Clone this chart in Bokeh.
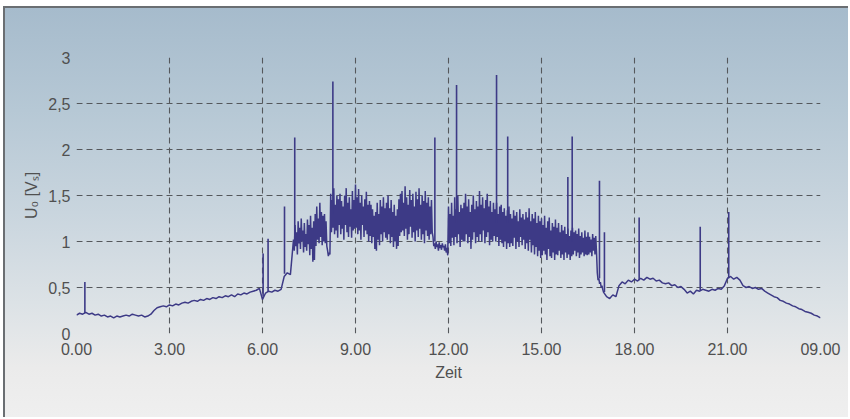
import numpy as np
from bokeh.plotting import figure
from bokeh.models import Range1d, FixedTicker
from bokeh.embed import file_html
from bokeh.resources import INLINE

# ---------------- data ----------------
# quiet night / morning part, one sample every 0.1 h from 0.0 h
seg_a_start, seg_a_step = 0.0, 0.1
seg_a_values = [
    0.20, 0.22, 0.21, 0.23, 0.21, 0.22, 0.20, 0.21, 0.19, 0.20,
    0.18, 0.19, 0.17, 0.19, 0.18, 0.19, 0.20, 0.19, 0.21, 0.20,
    0.19, 0.20, 0.18, 0.19, 0.21, 0.25, 0.28, 0.29, 0.30, 0.29,
    0.31, 0.30, 0.32, 0.31, 0.33, 0.34, 0.33, 0.35, 0.36, 0.35,
    0.37, 0.36, 0.38, 0.37, 0.39, 0.38, 0.40, 0.39, 0.41, 0.40,
    0.42, 0.40, 0.43, 0.42, 0.44, 0.43, 0.45, 0.46, 0.47, 0.49,
    0.37, 0.44, 0.46, 0.45, 0.47, 0.46, 0.48, 0.62, 0.66, 0.64,
]
# noisy day part, one sample every 0.025 h from 7.0 h (one row = 0.5 h)
seg_b_start, seg_b_step = 7.0, 0.025
seg_b_values = [
    1.02, 0.90, 1.18, 0.95, 1.10, 0.86, 1.22, 0.98, 1.15, 0.92, 1.25, 1.00, 1.12, 0.88, 1.20, 0.94, 1.08, 0.90, 1.24, 0.97,
    1.18, 0.85, 1.28, 0.92, 1.15, 0.78, 1.22, 0.80, 1.30, 0.95, 1.38, 1.02, 1.25, 0.98, 1.42, 1.05, 1.32, 0.96, 1.28, 1.00,
    1.30, 0.98, 1.22, 0.95, 0.90, 0.84, 0.88, 0.86, 1.52, 1.10, 1.45, 1.15, 1.58, 1.08, 1.40, 1.12, 1.50, 1.04, 1.46, 1.18,
    1.52, 1.08, 1.44, 1.14, 1.38, 1.02, 1.50, 1.18, 1.58, 1.10, 1.42, 1.05, 1.48, 1.16, 1.35, 1.04, 1.55, 1.12, 1.45, 1.14,
    1.62, 1.15, 1.48, 1.08, 1.57, 1.12, 1.42, 1.02, 1.50, 1.18, 1.38, 1.05, 1.46, 1.12, 1.54, 1.08, 1.40, 1.00, 1.44, 1.06,
    1.40, 0.98, 1.35, 1.05, 1.28, 0.92, 1.32, 0.90, 1.42, 1.02, 1.30, 0.96, 1.45, 1.08, 1.38, 1.00, 1.48, 1.10, 1.36, 1.04,
    1.42, 1.02, 1.50, 1.08, 1.36, 0.98, 1.45, 1.05, 1.32, 0.94, 1.40, 1.00, 1.28, 0.92, 1.35, 0.95, 1.46, 1.06, 1.52, 1.10,
    1.55, 1.12, 1.42, 1.06, 1.60, 1.14, 1.48, 1.02, 1.40, 1.08, 1.56, 1.16, 1.45, 1.04, 1.52, 1.10, 1.38, 1.00, 1.54, 1.12,
    1.46, 1.05, 1.58, 1.14, 1.40, 1.02, 1.50, 1.08, 1.44, 0.98, 1.55, 1.12, 1.42, 1.06, 1.48, 1.02, 1.38, 1.08, 1.45, 1.10,
    1.05, 0.95, 0.98, 0.92, 1.00, 0.94, 0.97, 0.90, 0.99, 0.93, 0.96, 0.91, 0.98, 0.94, 0.95, 0.90, 0.97, 0.88, 0.93, 0.85,
    1.38, 0.98, 1.30, 0.95, 1.42, 1.04, 1.28, 0.96, 1.48, 1.05, 1.35, 0.98, 1.50, 1.08, 1.32, 0.94, 1.40, 1.02, 1.36, 1.00,
    1.42, 1.00, 1.52, 1.08, 1.38, 0.98, 1.46, 1.05, 1.32, 0.92, 1.40, 1.02, 1.50, 1.10, 1.35, 0.98, 1.44, 1.05, 1.38, 1.00,
    1.55, 1.08, 1.40, 1.00, 1.48, 1.12, 1.36, 0.98, 1.45, 1.05, 1.52, 1.10, 1.38, 0.96, 1.44, 1.02, 1.32, 1.00, 1.42, 1.06,
    1.35, 1.00, 1.42, 1.05, 1.30, 0.95, 1.38, 1.02, 1.40, 0.98, 1.32, 0.94, 1.36, 1.00, 1.28, 0.92, 1.34, 0.98, 1.38, 0.94,
    1.30, 0.98, 1.25, 0.95, 1.34, 1.04, 1.28, 0.92, 1.32, 1.00, 1.22, 0.94, 1.35, 1.05, 1.26, 0.96, 1.30, 1.02, 1.24, 0.92,
    1.32, 0.98, 1.26, 0.90, 1.36, 1.02, 1.22, 0.88, 1.30, 0.96, 1.25, 0.86, 1.32, 0.94, 1.20, 0.84, 1.28, 0.90, 1.22, 0.82,
    1.25, 0.85, 1.18, 0.90, 1.28, 0.86, 1.15, 0.80, 1.22, 0.92, 1.26, 0.84, 1.12, 0.82, 1.20, 0.88, 1.16, 0.80, 1.24, 0.86,
    1.15, 0.85, 1.20, 0.90, 1.10, 0.82, 1.18, 0.86, 1.12, 0.80, 1.16, 0.88, 1.08, 0.82, 1.14, 0.86, 1.06, 0.80, 1.12, 0.84,
    1.15, 0.86, 1.10, 0.90, 1.12, 0.84, 1.08, 0.88, 1.14, 0.82, 1.06, 0.86, 1.10, 0.88, 1.04, 0.84, 1.12, 0.86, 1.05, 0.85,
    1.10, 0.86, 1.05, 0.88, 1.02, 0.84, 1.08, 0.90, 1.04, 0.86, 1.06, 0.88, 0.66, 0.58, 0.60, 0.54, 0.56, 0.50, 0.52, 0.48,
]
# quiet evening / night part, one sample every 0.1 h from 17.0 h
seg_c_start, seg_c_step = 17.0, 0.1
seg_c_values = [
    0.45, 0.40, 0.38, 0.42, 0.40, 0.52, 0.56, 0.54, 0.58, 0.56,
    0.59, 0.57, 0.60, 0.58, 0.61, 0.59, 0.60, 0.57, 0.58, 0.55,
    0.54, 0.55, 0.52, 0.53, 0.50, 0.51, 0.48, 0.44, 0.46, 0.43,
    0.47, 0.46, 0.48, 0.47, 0.46, 0.48, 0.47, 0.49, 0.48, 0.52,
    0.60, 0.62, 0.59, 0.61, 0.58, 0.52, 0.50, 0.51, 0.49, 0.50,
    0.48, 0.49, 0.46, 0.44, 0.42, 0.40, 0.39, 0.36, 0.35, 0.33,
    0.32, 0.30, 0.29, 0.27, 0.26, 0.24, 0.23, 0.22, 0.20, 0.19,
    0.17,
]
# single-sample spikes: time [h], peak value, level next to it
spike_hours = [0.27, 6.02, 6.18, 6.71, 7.04, 8.27, 11.56, 12.26, 13.55,
               13.91, 15.85, 15.99, 16.87, 17.03, 18.15, 20.12, 21.04]
spike_peaks = [0.56, 0.87, 1.03, 1.38, 2.13, 2.74, 2.13, 2.70, 2.81,
               2.14, 1.70, 2.14, 1.66, 1.10, 1.26, 1.16, 1.32]
spike_bases = [0.22, 0.40, 0.45, 0.65, 1.00, 1.30, 1.00, 1.20, 1.20,
               1.20, 1.00, 1.00, 0.60, 0.45, 0.58, 0.47, 0.60]

x_ticks = [0, 3, 6, 9, 12, 15, 18, 21, 24]
x_tick_labels = ["0.00", "3.00", "6.00", "9.00", "12.00", "15.00",
                 "18.00", "21.00", "09.00"]
y_ticks = [0, 0.5, 1, 1.5, 2, 2.5, 3]
y_tick_labels = ["0", "0,5", "1", "1,5", "2", "2,5", "3"]

# ---------------- build ----------------
def seg_times(start, step, vals):
    return [start + i * step for i in range(len(vals))]

t_all = (seg_times(seg_a_start, seg_a_step, seg_a_values)
         + seg_times(seg_b_start, seg_b_step, seg_b_values)
         + seg_times(seg_c_start, seg_c_step, seg_c_values))
v_all = seg_a_values + seg_b_values + seg_c_values

LINE = "#3d3a86"
TXT = "#505050"
FONT = "Liberation Sans"

p = figure(width=845, height=411, output_backend="svg", toolbar_location=None,
           x_range=Range1d(0, 24), y_range=Range1d(0, 3),
           min_border_left=71, min_border_right=30, min_border_top=49,
           min_border_bottom=86)
p.background_fill_alpha = 0
p.border_fill_alpha = 0
p.outline_line_color = None
p.styles = {
    "background": "linear-gradient(to bottom, #a6bbcc 0%, #b6c8d5 25%, "
                  "#c9d5de 50%, #dce2e6 72%, #ebebeb 88%, #efefef 100%)",
    "border-top": "2px solid #6a6e72",
    "border-left": "2px solid #6a6e72",
    "margin-left": "3px",
    "margin-top": "6px",
}

p.line(t_all, v_all, line_color=LINE, line_width=1.5)
p.segment(x0=spike_hours, y0=spike_bases, x1=spike_hours, y1=spike_peaks,
          line_color=LINE, line_width=1.6)

# grid
p.xgrid.ticker = FixedTicker(ticks=x_ticks[1:-1])
p.ygrid.ticker = FixedTicker(ticks=y_ticks[1:-1])
for g in (p.xgrid[0], p.ygrid[0]):
    g.grid_line_color = "#55585c"
    g.grid_line_dash = "6 4"
    g.grid_line_width = 1.1

# axes
p.xaxis.ticker = FixedTicker(ticks=x_ticks)
p.xaxis.major_label_overrides = dict(zip(x_ticks, x_tick_labels))
p.yaxis.ticker = FixedTicker(ticks=y_ticks)
p.yaxis.major_label_overrides = dict(zip(y_ticks, y_tick_labels))
p.xaxis.axis_label = "Zeit"
p.yaxis.axis_label = "U₀ [Vₛ]"
for ax in (p.xaxis[0], p.yaxis[0]):
    ax.axis_line_color = None
    ax.major_tick_line_color = None
    ax.minor_tick_line_color = None
    ax.major_tick_out = 0
    ax.major_tick_in = 0
    ax.minor_tick_out = 0
    ax.minor_tick_in = 0
    ax.major_label_text_font = FONT
    ax.major_label_text_font_size = "16px"
    ax.major_label_text_color = TXT
    ax.axis_label_text_font = FONT
    ax.axis_label_text_font_size = "16px"
    ax.axis_label_text_font_style = "normal"
    ax.axis_label_text_color = TXT
p.xaxis.major_label_standoff = 9
p.yaxis.major_label_standoff = 6
p.xaxis.axis_label_standoff = 6
p.yaxis.axis_label_standoff = 5

open("out.html", "w").write(file_html(p, INLINE))
